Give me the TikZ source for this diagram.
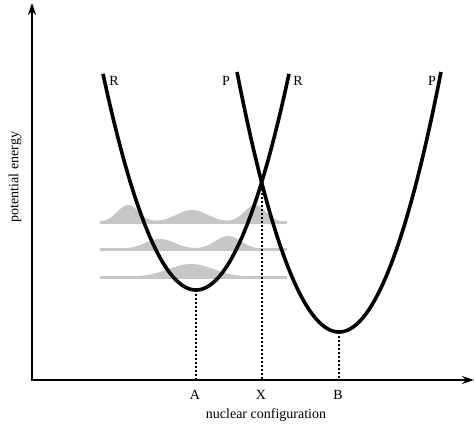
\documentclass[tikz,border=0pt]{standalone}
\usepackage{fontspec}
\setmainfont{Liberation Serif}
\usetikzlibrary{arrows.meta}
\begin{document}
\begin{tikzpicture}[x=1pt,y=-1pt,
  declare function={gb(\t,\c,\w)=exp(-(((\t-\c)/\w)*((\t-\c)/\w)));},
  axis/.style={line width=2.3pt,-{Stealth[length=12pt,width=8pt]}},
  curve/.style={line width=3.6pt},
  guide/.style={line width=2.8pt,dash pattern=on 2.4pt off 1.6pt},
  packet/.style={fill=black!22,draw=none},
  base/.style={draw=black!22,line width=3pt},
  lbl/.style={font=\fontsize{14}{16}\selectfont,inner sep=1pt}]
\useasboundingbox (0,0) rectangle (474,425);
% wave packets
\fill[packet] (100,222) -- plot[domain=100:287,samples=150] (\x,{222-17*gb(\x,128,15)-12*gb(\x,192,22)-17*gb(\x,255,15)}) -- (287,222) -- cycle;
\draw[base] (100,222) -- (287,222);
\fill[packet] (100,249) -- plot[domain=100:287,samples=150] (\x,{249-10*gb(\x,160,21)-13*gb(\x,228,18)}) -- (287,249) -- cycle;
\draw[base] (100,249) -- (287,249);
\fill[packet] (100,277) -- plot[domain=100:287,samples=150] (\x,{277-13*gb(\x,191,32)}) -- (287,277) -- cycle;
\draw[base] (100,277) -- (287,277);
% axes
\coordinate (O) at (32,380);
\coordinate (Ytop) at (32,3);
\coordinate (Xend) at (474,380);
\draw[axis] (O) -- (Ytop);
\draw[axis] ([xshift=-1.15pt]O) -- (Xend);
% key points
\coordinate (Rmin) at (196,290);
\coordinate (Pmin) at (339,332);
\coordinate (Xc) at (262,181);
% dotted guides
\draw[guide] (Rmin) -- (Rmin |- O);
\draw[guide] (Xc) -- (Xc |- O);
\draw[guide] (Pmin) -- (Pmin |- O);
% curves
\draw[curve] plot[domain=103:289,samples=120] (\x,{290-0.025*(\x-196)^2});
\draw[curve] plot[domain=237:441,samples=120] (\x,{332-0.025*(\x-339)^2});
% labels
\node[lbl] (rl) at (114,81) {R};
\node[lbl] (pl) at (226,81) {P};
\node[lbl] (rr) at (298,81) {R};
\node[lbl] (pr) at (432,81) {P};
\node[lbl] (a) at (195,395) {A};
\node[lbl] (x) at (261,395) {X};
\node[lbl] (b) at (338,395) {B};
\node[lbl] (nc) at (266,415) {nuclear configuration};
\node[lbl,rotate=90] (pe) at (15,177) {potential energy};
\end{tikzpicture}
\end{document}
